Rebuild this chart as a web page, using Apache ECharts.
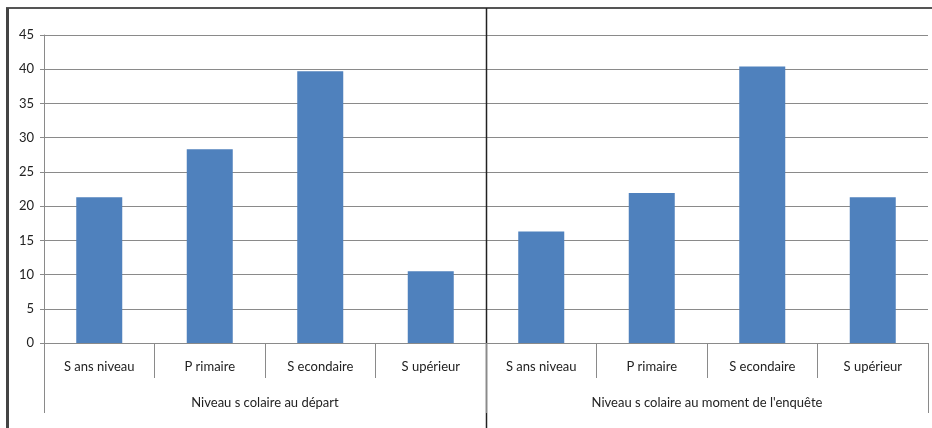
<!DOCTYPE html>
<html>
<head>
<meta charset="utf-8">
<script src="https://cdn.jsdelivr.net/npm/echarts@6/dist/echarts.min.js"></script>
<style>
  html, body { margin: 0; padding: 0; background: #fff; }
  #chart { width: 932px; height: 428px; }
</style>
</head>
<body>
<div id="chart"></div>
<script>
// niveaux scolaires (sous-catégories) et groupes
const niveaux = ['S ans niveau', 'P rimaire', 'S econdaire', 'S upérieur'];
const groupes = ['Niveau s colaire au départ', "Niveau s colaire au moment de l'enquête"];
// valeurs (%)
const depart = [21.3, 28.3, 39.7, 10.5];
const enquete = [16.3, 21.9, 40.4, 21.3];
const yTicks = [0, 5, 10, 15, 20, 25, 30, 35, 40, 45];

const categories = niveaux.concat(niveaux);
const values = depart.concat(enquete);

const FONT = 'Lato, "Open Sans", sans-serif';
const GRID = '#8a8a8a';

const chart = echarts.init(document.getElementById('chart'));

const option = {
  animation: false,
  backgroundColor: '#fff',
  grid: { left: 44, right: 4, top: 35, bottom: 85 },
  xAxis: [{
    type: 'category',
    data: categories,
    position: 'bottom',
    axisLine: { lineStyle: { color: GRID, width: 1 } },
    axisTick: { show: true, interval: 0, length: 35, lineStyle: { color: GRID } },
    axisLabel: { interval: 0, margin: 17, fontFamily: FONT, fontSize: 13, color: '#222' },
  }, {
    type: 'category',
    data: groupes,
    position: 'bottom',
    offset: 35,
    axisLine: { show: false },
    axisTick: { show: true, interval: 0, length: 35, lineStyle: { color: GRID } },
    axisLabel: { interval: 0, margin: 18, fontFamily: FONT, fontSize: 13, color: '#222' },
  }],
  yAxis: {
    type: 'value',
    min: yTicks[0],
    max: yTicks[yTicks.length - 1],
    interval: 5,
    axisLine: { show: true, lineStyle: { color: GRID } },
    axisTick: { show: true, length: 4, lineStyle: { color: GRID } },
    splitLine: { show: true, lineStyle: { color: GRID, width: 1 } },
    axisLabel: { margin: 10, fontFamily: FONT, fontSize: 13, color: '#222' },
  },
  series: [{
    type: 'bar',
    data: values,
    barWidth: 46,
    itemStyle: { color: '#4F81BD' },
  }],
};

chart.setOption(option);

// séparation verticale entre les deux groupes + cadre
const p3 = chart.convertToPixel({ xAxisIndex: 0 }, niveaux.length - 1);
const p4 = chart.convertToPixel({ xAxisIndex: 0 }, niveaux.length);
const midX = Math.round((p3 + p4) / 2) + 0.5;
chart.setOption({
  graphic: [
    { type: 'line', shape: { x1: 6, y1: 8, x2: 932, y2: 8 }, style: { stroke: '#555', lineWidth: 2 } },
    { type: 'line', shape: { x1: 7.5, y1: 8, x2: 7.5, y2: 428 }, style: { stroke: '#444', lineWidth: 3 } },
    { type: 'line', shape: { x1: midX, y1: 8, x2: midX, y2: 428 }, style: { stroke: '#222', lineWidth: 1.5 } },
  ],
});
</script>
</body>
</html>
